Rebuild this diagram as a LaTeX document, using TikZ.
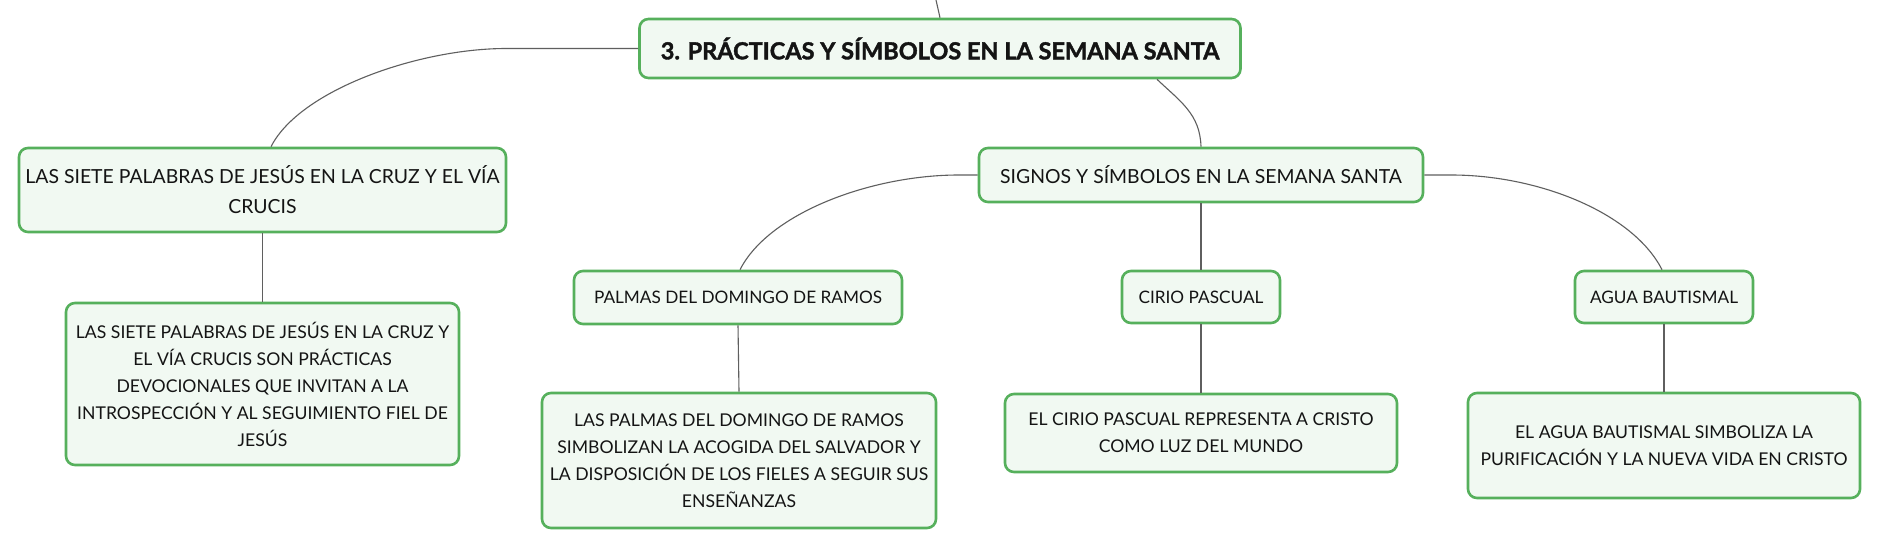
\documentclass[tikz,border=0pt]{standalone}
\usepackage{fontspec}
\setmainfont{Lato}
\newfontfamily\titlefont[BoldFeatures={FakeBold=1.6}]{Lato}
\usetikzlibrary{calc}
\definecolor{boxgreen}{RGB}{86,176,92}
\definecolor{boxfill}{RGB}{241,249,242}
\definecolor{linegray}{RGB}{95,95,95}
\definecolor{txt}{RGB}{20,20,20}
\tikzset{
  mapbox/.style={draw=boxgreen, line width=2.6pt, fill=boxfill, rounded corners=9pt,
    inner sep=0pt, align=center, text=txt},
  rootbox/.style={mapbox, font=\titlefont\bfseries\fontsize{23.5}{28}\selectfont},
  levelone/.style={mapbox, font=\fontsize{19.4}{30}\selectfont},
  leveltwo/.style={mapbox, font=\fontsize{17.2}{26}\selectfont},
  levelthree/.style={mapbox, font=\fontsize{17.6}{27}\selectfont},
  conn/.style={draw=linegray, line width=1.1pt}
}
\begin{document}
\begin{tikzpicture}[x=1pt,y=-1pt]
\useasboundingbox[fill=white] (0,0) rectangle (1881,549);

\node[rootbox, minimum width=601pt, minimum height=59pt] (main) at (940,48.5)
  {3. PRÁCTICAS Y SÍMBOLOS EN LA SEMANA SANTA};

\node[levelone, minimum width=487pt, minimum height=84pt] (cruz) at (262.5,190)
  {LAS SIETE PALABRAS DE JESÚS EN LA CRUZ Y EL VÍA\\CRUCIS};
\node[levelthree, minimum width=393pt, minimum height=162pt] (cruzdesc) at (262.5,384)
  {LAS SIETE PALABRAS DE JESÚS EN LA CRUZ Y\\EL VÍA CRUCIS SON PRÁCTICAS\\DEVOCIONALES QUE INVITAN A LA\\INTROSPECCIÓN Y AL SEGUIMIENTO FIEL DE\\JESÚS};

\node[levelone, minimum width=444pt, minimum height=54pt] (signos) at (1201,175)
  {SIGNOS Y SÍMBOLOS EN LA SEMANA SANTA};

\node[leveltwo, minimum width=328pt, minimum height=53pt] (palmas) at (738,297.5)
  {PALMAS DEL DOMINGO DE RAMOS};
\node[leveltwo, minimum width=158pt, minimum height=52pt] (cirio) at (1201,297)
  {CIRIO PASCUAL};
\node[leveltwo, minimum width=178pt, minimum height=52pt] (agua) at (1664,297)
  {AGUA BAUTISMAL};

\node[levelthree, minimum width=394pt, minimum height=135pt] (palmasdesc) at (739,460.5)
  {LAS PALMAS DEL DOMINGO DE RAMOS\\SIMBOLIZAN LA ACOGIDA DEL SALVADOR Y\\LA DISPOSICIÓN DE LOS FIELES A SEGUIR SUS\\ENSEÑANZAS};
\node[levelthree, minimum width=392pt, minimum height=78pt] (ciriodesc) at (1201,433)
  {EL CIRIO PASCUAL REPRESENTA A CRISTO\\COMO LUZ DEL MUNDO};
\node[levelthree, minimum width=392pt, minimum height=105pt] (aguadesc) at (1664,445.5)
  {EL AGUA BAUTISMAL SIMBOLIZA LA\\PURIFICACIÓN Y LA NUEVA VIDA EN CRISTO};

\coordinate (topend) at (936,0);

\draw[conn] (topend) -- (main.north);
\draw[conn] (main.west) -- ++(-132,0) .. controls +(-87,0) and ($(cruz.north)+(37.5,-57)$) .. ($(cruz.north)+(8.5,0)$);
\draw[conn] ($(main.south)+(217,0)$) .. controls +(23,22) and ($(signos.north)+(-1,-33)$) .. (signos.north);
\draw[conn] (cruz.south) -- (cruzdesc.north);
\draw[conn] (signos.west) -- ++(-19,0) .. controls +(-87,0) and ($(palmas.north)+(31,-57)$) .. ($(palmas.north)+(2,0)$);
\draw[conn] (signos.south) -- (cirio.north);
\draw[conn] (signos.east) -- ++(27,0) .. controls +(87,0) and ($(agua.north)+(-31,-57)$) .. ($(agua.north)+(-2,0)$);
\draw[conn] (palmas.south) -- (palmasdesc.north);
\draw[conn] (cirio.south) -- (ciriodesc.north);
\draw[conn] (agua.south) -- (aguadesc.north);
\end{tikzpicture}
\end{document}
